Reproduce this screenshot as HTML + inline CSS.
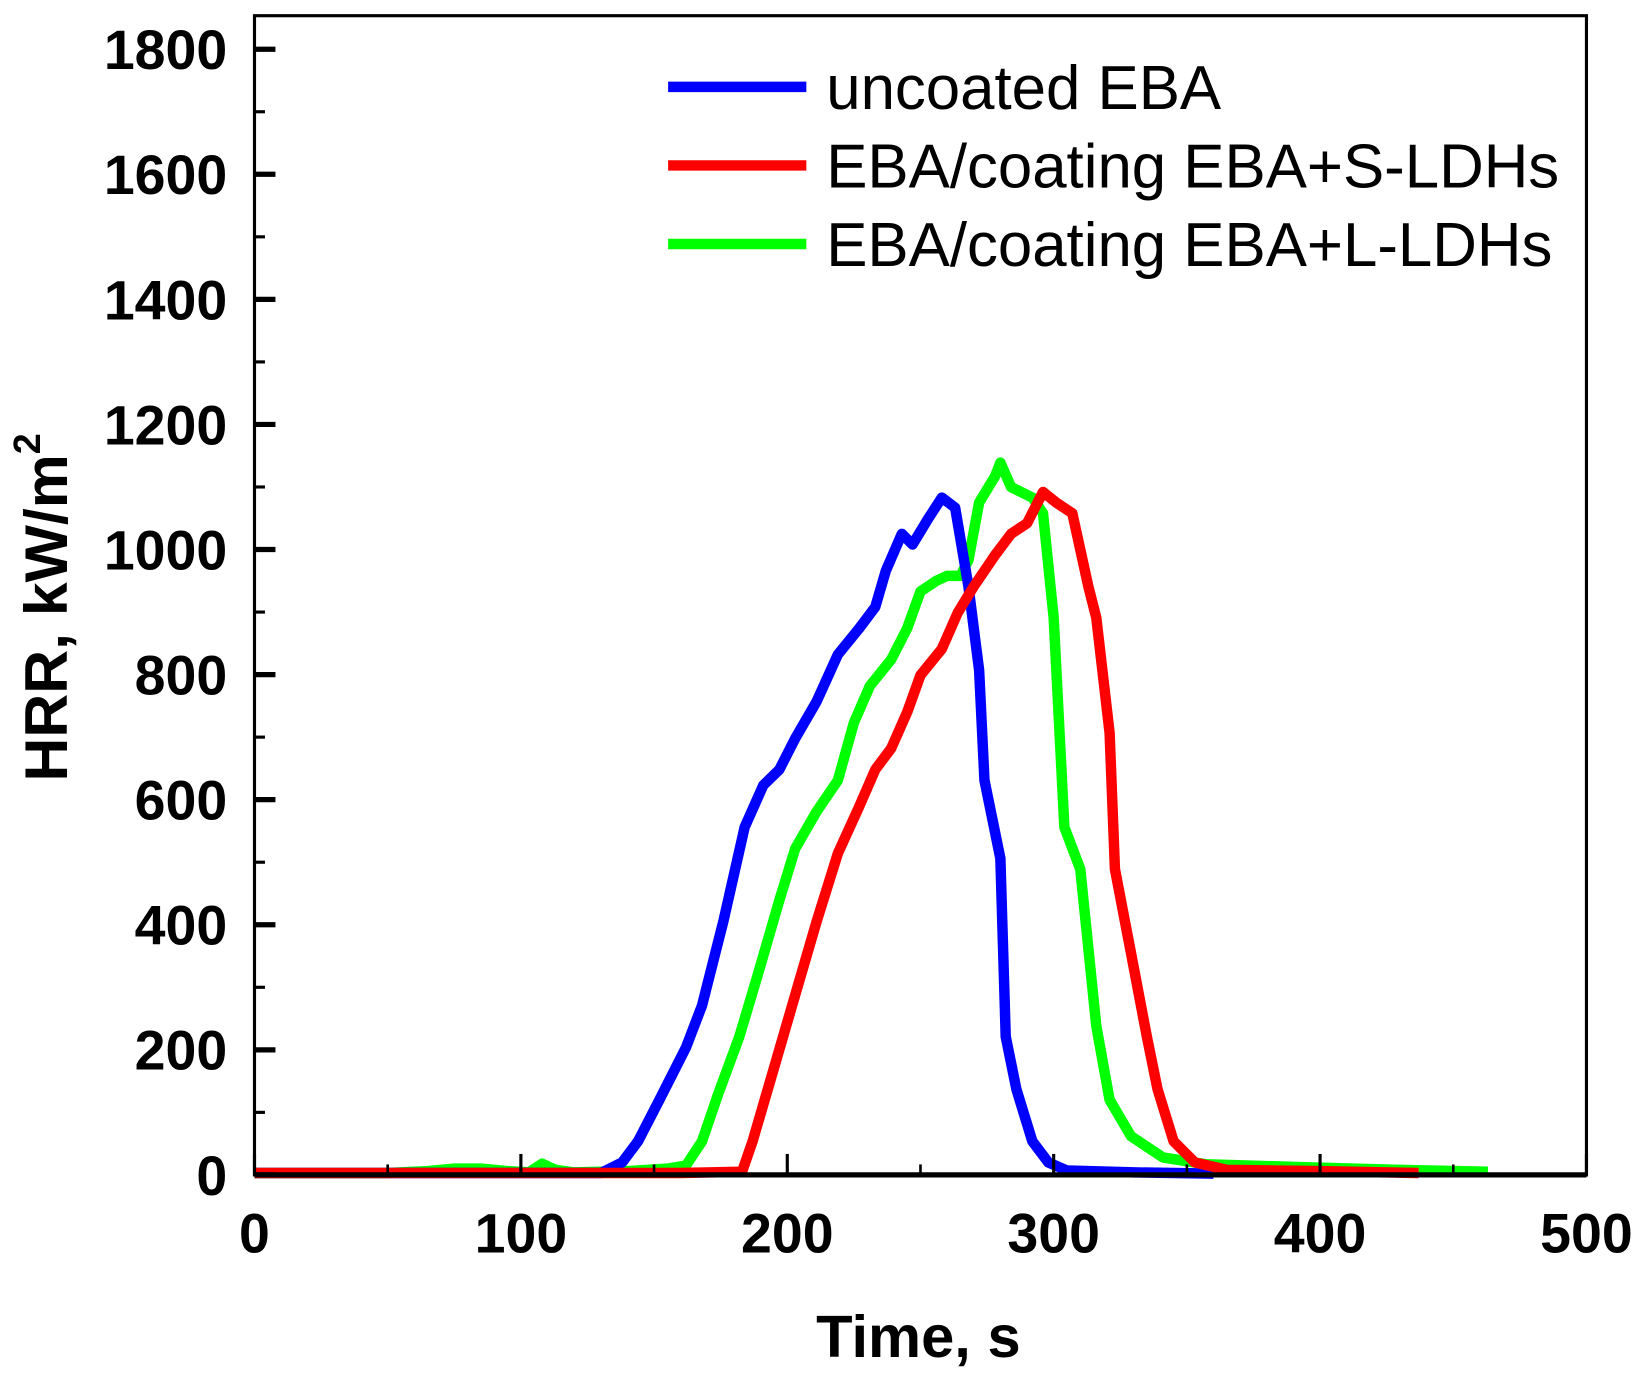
<!DOCTYPE html>
<html><head><meta charset="utf-8"><style>
html,body{margin:0;padding:0;background:#fff;}
svg{display:block;}
text{font-family:"Liberation Sans",Arial,sans-serif;}
</style></head><body>
<svg id="chart" width="1642" height="1377" viewBox="0 0 1568 1315" xmlns="http://www.w3.org/2000/svg">
<g id="plot"></g>
</svg>
<script>
const xTicks=[0,100,200,300,400,500];
const yTicks=[0,200,400,600,800,1000,1200,1400,1600,1800];
const seriesNames=["uncoated EBA","EBA/coating EBA+S-LDHs","EBA/coating EBA+L-LDHs"];
const seriesColors=["#0000ff","#ff0000","#00ff00"];
const blueT=[0,50,100,130,138,144,152,162,168,176,184,191,197,203,211,219,227,233,237,243,247,253,258,263,268,272,274,280,282,286,292,298,305,330,360];
const blueV=[3,3,3,3,20,54,120,204,271,405,556,623,648,698,757,832,874,908,966,1025,1008,1050,1083,1067,941,807,631,506,221,137,54,20,7,4,2];
const redT=[0,40,80,120,160,183,187,195,203,211,219,227,233,239,245,250,258,264,270,278,284,290,296,301,307,313,316,321,323,329,335,339,345,353,365,400,437];
const redV=[3,3,3,3,3,5,54,171,288,405,514,589,648,682,740,799,841,899,941,991,1025,1042,1092,1075,1058,941,891,707,489,355,221,137,54,20,8,6,3];
const greenT=[0,50,65,75,85,95,103,108,113,120,140,155,162,168,174,182,189,197,203,211,219,225,231,239,245,250,256,260,265,268,272,278,280,284,292,296,300,304,310,316,321,329,341,357,396,430,463];
const greenV=[3,3,6,10,10,6,4,18,8,4,6,10,15,54,129,221,321,439,522,581,631,723,782,824,874,933,950,958,958,983,1075,1117,1139,1100,1083,1058,891,556,489,238,120,62,28,17,12,8,5];

const X0=243,X1=1515,Y0=1122,Y1=47,TOP=15;
const xs=t=>X0+(t/500)*(X1-X0);
const ys=v=>Y0-(v/1800)*(Y0-Y1);
const NS="http://www.w3.org/2000/svg";
const g=document.getElementById('plot');
function mk(tag,attrs,parent){const e=document.createElementNS(NS,tag);for(const k in attrs)e.setAttribute(k,attrs[k]);(parent||g).appendChild(e);return e;}

const all=[[blueT,blueV],[redT,redV],[greenT,greenV]];
const order=[2,0,1];
order.forEach(i=>{
  const [T,V]=all[i];
  const d=T.map((t,j)=>(j?'L':'M')+xs(t).toFixed(1)+','+ys(V[j]).toFixed(1)).join(' ');
  const p=mk('path',{d:d,fill:'none',stroke:seriesColors[i],'stroke-width':10,'stroke-linejoin':'round'});
  
  
});

const fr=mk('rect',{x:X0,y:TOP,width:X1-X0,height:Y0-TOP,fill:'none',stroke:'#000','stroke-width':3});


mk('line',{x1:X0,y1:Y0,x2:X1,y2:Y0,stroke:'#000','stroke-width':5});

for(let v=0;v<=1800;v+=100){
  const major=v%200===0;
  mk('line',{x1:X0,y1:ys(v),x2:X0+(major?20:10),y2:ys(v),stroke:'#000','stroke-width':major?5:3});
}
yTicks.forEach(v=>{
  const t=mk('text',{x:X0-26,y:ys(v)+19,'text-anchor':'end','font-size':53,'font-weight':'bold'});
  t.textContent=v;
  
  
});
for(let v=0;v<=500;v+=50){
  const major=v%100===0;
  mk('line',{x1:xs(v),y1:Y0,x2:xs(v),y2:Y0-(major?20:10),stroke:'#000','stroke-width':major?3:2.5});
}
xTicks.forEach(v=>{
  const t=mk('text',{x:xs(v),y:1196,'text-anchor':'middle','font-size':53,'font-weight':'bold'});
  t.textContent=v;
  
  
});
const xt=mk('text',{x:877,y:1296,'text-anchor':'middle','font-size':57,'font-weight':'bold'});
xt.textContent='Time, s';


const yt=mk('text',{x:0,y:0,'text-anchor':'middle','font-size':58,'font-weight':'bold',transform:'translate(64,580) rotate(-90)'});


yt.textContent='HRR, kW/m';
const sup=mk('tspan',{dy:-26,'font-size':36},yt);sup.textContent='2';

seriesNames.forEach((n,i)=>{
  const y=83+i*75;
  const l=mk('line',{x1:638,y1:y,x2:770,y2:y,stroke:seriesColors[i],'stroke-width':10});
  
  
  const t=mk('text',{x:789,y:y+21,'font-size':59});
  t.textContent=n;
  
  
});
</script>
</body></html>
